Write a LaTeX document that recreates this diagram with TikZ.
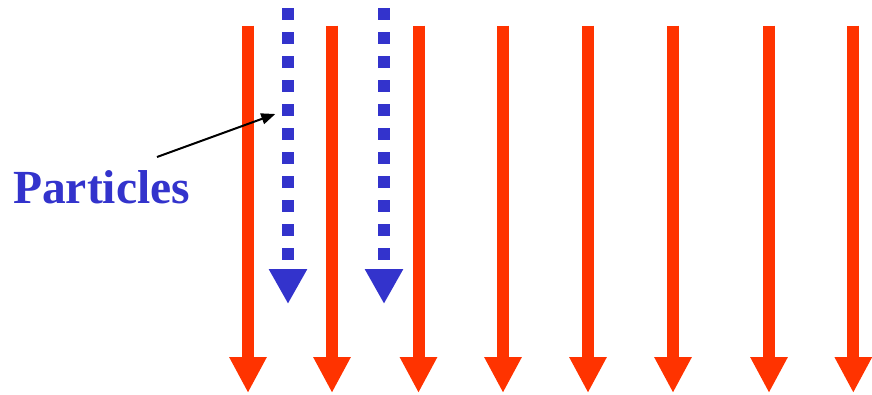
\documentclass[tikz,border=0pt]{standalone}
\usepackage{fontspec}
\setmainfont{Liberation Serif}
\usetikzlibrary{arrows.meta}
\definecolor{fieldred}{HTML}{FF3300}
\definecolor{particleblue}{HTML}{3333CC}
\begin{document}
\begin{tikzpicture}[x=1pt,y=-1pt,
  fieldline/.style={draw=fieldred,line width=12pt,
    -{Triangle[width=35pt,length=36pt,fill=fieldred]}},
  particlepath/.style={draw=particleblue,line width=12pt,dash pattern=on 12pt off 12pt,
    -{Triangle[width=36pt,length=35pt,fill=particleblue]}},
  pointer/.style={draw=black,line width=2pt,-{Triangle[width=11pt,length=14pt]}},
  label/.style={text=particleblue,font=\fontsize{47.5}{52}\selectfont\bfseries,inner sep=0pt}]
  \useasboundingbox (0,0) rectangle (872,395);
  % field lines
  \foreach \i/\x in {1/248,2/332,3/418.5,4/503,5/588,6/673,7/769,8/853.3}{
    \coordinate (f\i top) at (\x,25.7);
    \coordinate (f\i tip) at (\x,393);
    \draw[fieldline] (f\i top) -- (f\i tip);
  }
  % particle trajectories
  \foreach \i/\x in {1/288,2/384}{
    \coordinate (p\i top) at (\x,8.3);
    \coordinate (p\i tip) at (\x,304);
    \draw[particlepath] (p\i top) -- (p\i tip);
  }
  % label and pointer
  \node[label,anchor=base west] (lbl) at (13,203.3) {Particles};
  \coordinate (ptrstart) at (157,157);
  \coordinate (ptrend) at (275.3,114);
  \draw[pointer] (ptrstart) -- (ptrend);
\end{tikzpicture}
\end{document}
